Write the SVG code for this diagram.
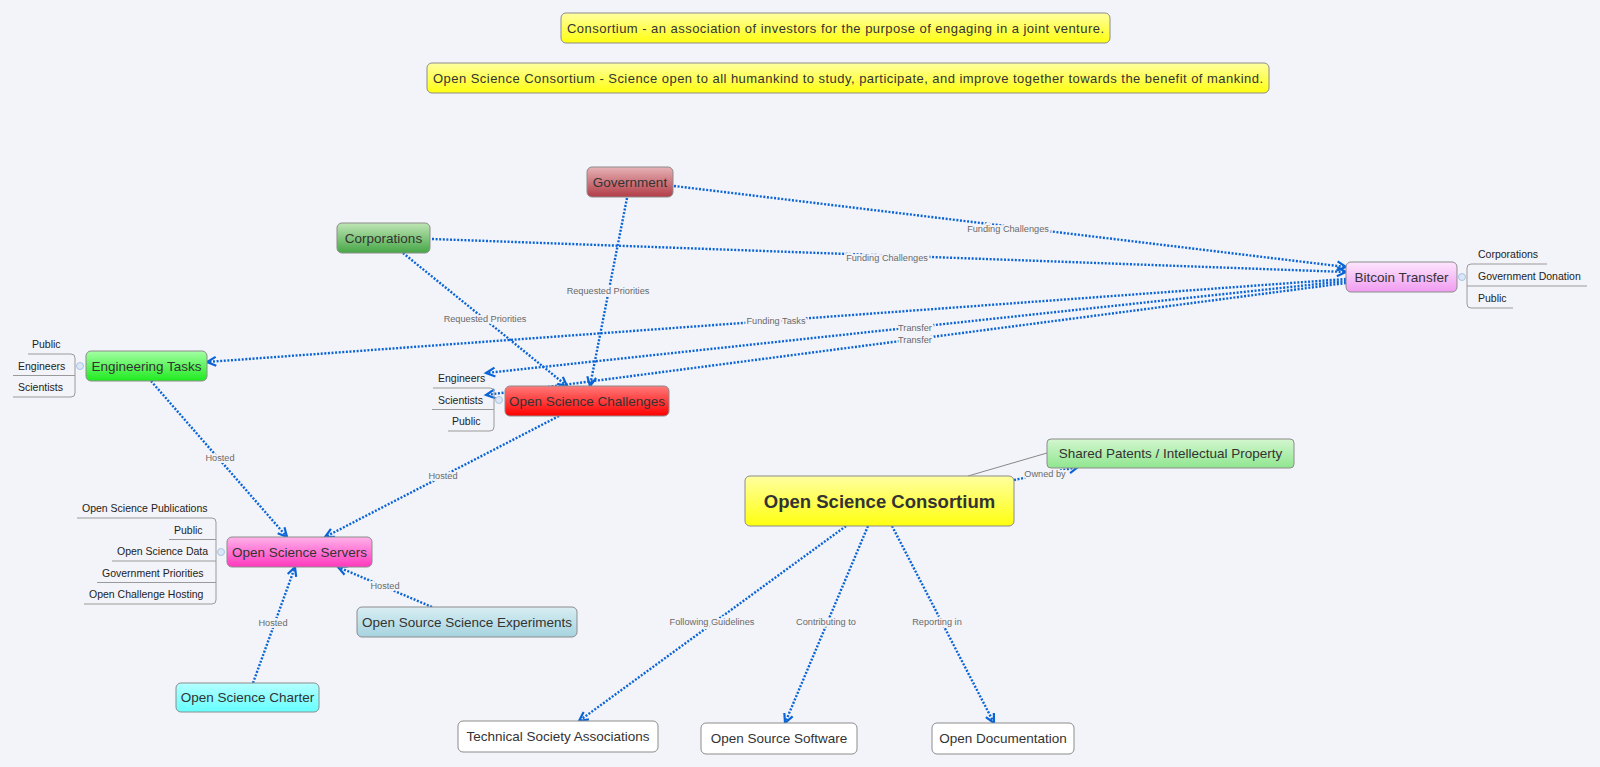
<svg xmlns="http://www.w3.org/2000/svg" width="1600" height="767" viewBox="0 0 1600 767">
<defs>
<style>
.n{stroke:#8c8c8c;stroke-width:1}
.t{font-family:"Liberation Sans",Arial,sans-serif;font-size:13.5px;fill:#333;text-anchor:middle}
.d{font-family:"Liberation Sans",Arial,sans-serif;font-size:13px;fill:#333;text-anchor:start}
.c{font-family:"Liberation Sans",Arial,sans-serif;font-size:10.5px;fill:#222}
.e{fill:none;stroke:#0a64d6;stroke-width:2.4;stroke-dasharray:2 1.6}
.l{font-family:"Liberation Sans",Arial,sans-serif;font-size:9.2px;fill:#6a6a6a;text-anchor:middle;stroke:#f3f4f9;stroke-width:4;paint-order:stroke;stroke-linejoin:round}
.b{fill:none;stroke:#9a9a9a;stroke-width:1}
.k{fill:#dce7f6;stroke:#a9c3e6;stroke-width:1}
</style>
<marker id="a" markerUnits="userSpaceOnUse" markerWidth="14" markerHeight="14" refX="10" refY="6" orient="auto" viewBox="0 0 14 12">
<path d="M1,1.5 L10,6 L1,10.5" fill="none" stroke="#0a64d6" stroke-width="2.2" stroke-dasharray="none"/>
</marker>
<linearGradient id="gy" x1="0" y1="0" x2="0" y2="1"><stop offset="0" stop-color="#ffffa0"/><stop offset="1" stop-color="#ffff10"/></linearGradient>
<linearGradient id="gg" x1="0" y1="0" x2="0" y2="1"><stop offset="0" stop-color="#e6b2b6"/><stop offset="1" stop-color="#b23c46"/></linearGradient>
<linearGradient id="gc" x1="0" y1="0" x2="0" y2="1"><stop offset="0" stop-color="#bfe6b6"/><stop offset="1" stop-color="#46a646"/></linearGradient>
<linearGradient id="gb" x1="0" y1="0" x2="0" y2="1"><stop offset="0" stop-color="#fde6fd"/><stop offset="1" stop-color="#f09cf0"/></linearGradient>
<linearGradient id="ge" x1="0" y1="0" x2="0" y2="1"><stop offset="0" stop-color="#a4ffa4"/><stop offset="1" stop-color="#1eea1e"/></linearGradient>
<linearGradient id="gr" x1="0" y1="0" x2="0" y2="1"><stop offset="0" stop-color="#ff7a7a"/><stop offset="1" stop-color="#ff0000"/></linearGradient>
<linearGradient id="gp" x1="0" y1="0" x2="0" y2="1"><stop offset="0" stop-color="#ffb2ea"/><stop offset="1" stop-color="#ff38be"/></linearGradient>
<linearGradient id="gl" x1="0" y1="0" x2="0" y2="1"><stop offset="0" stop-color="#d8eef3"/><stop offset="1" stop-color="#a6d3df"/></linearGradient>
<linearGradient id="gq" x1="0" y1="0" x2="0" y2="1"><stop offset="0" stop-color="#b4ffff"/><stop offset="1" stop-color="#66ffff"/></linearGradient>
<linearGradient id="gs" x1="0" y1="0" x2="0" y2="1"><stop offset="0" stop-color="#d4f6d0"/><stop offset="1" stop-color="#8fe68f"/></linearGradient>
</defs>
<rect width="1600" height="767" fill="#f3f4f9"/>

<g id="connectors">
<line x1="968" y1="476" x2="1047" y2="453" stroke="#888" stroke-width="1"/>
<line class="e" x1="674" y1="186" x2="1346" y2="267" marker-end="url(#a)"/>
<line class="e" x1="432" y1="239" x2="1346" y2="272" marker-end="url(#a)"/>
<line class="e" x1="1346" y1="279" x2="207" y2="362" marker-end="url(#a)"/>
<line class="e" x1="1346" y1="281" x2="486" y2="373" marker-end="url(#a)"/>
<line class="e" x1="1346" y1="283" x2="486" y2="395" marker-end="url(#a)"/>
<line class="e" x1="627" y1="198" x2="590" y2="386" marker-end="url(#a)"/>
<line class="e" x1="403" y1="253" x2="567" y2="386" marker-end="url(#a)"/>
<line class="e" x1="151" y1="381" x2="287" y2="537" marker-end="url(#a)"/>
<line class="e" x1="559" y1="416" x2="325" y2="537" marker-end="url(#a)"/>
<line class="e" x1="432" y1="607" x2="338" y2="567" marker-end="url(#a)"/>
<line class="e" x1="253" y1="683" x2="295" y2="567" marker-end="url(#a)"/>
<line class="e" x1="1014" y1="480" x2="1078" y2="467" marker-end="url(#a)"/>
<line class="e" x1="846" y1="526" x2="579" y2="721" marker-end="url(#a)"/>
<line class="e" x1="868" y1="526" x2="785" y2="723" marker-end="url(#a)"/>
<line class="e" x1="892" y1="526" x2="994" y2="723" marker-end="url(#a)"/>
<text class="l" x="1008" y="232">Funding Challenges</text>
<text class="l" x="887" y="261">Funding Challenges</text>
<text class="l" x="776" y="324">Funding Tasks</text>
<text class="l" x="915" y="331">Transfer</text>
<text class="l" x="915" y="343">Transfer</text>
<text class="l" x="608" y="294">Requested Priorities</text>
<text class="l" x="485" y="322">Requested Priorities</text>
<text class="l" x="220" y="461">Hosted</text>
<text class="l" x="443" y="479">Hosted</text>
<text class="l" x="385" y="589">Hosted</text>
<text class="l" x="273" y="626">Hosted</text>
<text class="l" x="1045" y="477">Owned by</text>
<text class="l" x="712" y="625">Following Guidelines</text>
<text class="l" x="826" y="625">Contributing to</text>
<text class="l" x="937" y="625">Reporting in</text>
</g>

<g id="def1"><rect class="n" x="561" y="13" width="549" height="30" rx="5" fill="url(#gy)"/><text class="d" x="567" y="32.5" textLength="537">Consortium - an association of investors for the purpose of engaging in a joint venture.</text></g>
<g id="def2"><rect class="n" x="427" y="63" width="842" height="30" rx="5" fill="url(#gy)"/><text class="d" x="433" y="82.5" textLength="830">Open Science Consortium - Science open to all humankind to study, participate, and improve together towards the benefit of mankind.</text></g>

<g id="government"><rect class="n" x="587" y="167" width="86" height="30" rx="5" fill="url(#gg)"/><text class="t" x="630" y="186.5">Government</text></g>
<g id="corporations"><rect class="n" x="337" y="223" width="93" height="30" rx="5" fill="url(#gc)"/><text class="t" x="383.5" y="242.5">Corporations</text></g>

<g id="bitcoin"><rect class="n" x="1346" y="262" width="111" height="30" rx="5" fill="url(#gb)"/><text class="t" x="1401.5" y="281.5">Bitcoin Transfer</text>
<path class="b" d="M1547,264 H1471 Q1467,264 1467,268 V304 Q1467,308 1471,308 H1513 M1467,286 H1587"/>
<circle class="k" cx="1462" cy="277" r="3.5"/>
<text class="c" x="1478" y="258">Corporations</text>
<text class="c" x="1478" y="280">Government Donation</text>
<text class="c" x="1478" y="302">Public</text></g>

<g id="engineering"><rect class="n" x="86" y="351" width="121" height="30" rx="5" fill="url(#ge)"/><text class="t" x="146.5" y="370.5">Engineering Tasks</text>
<path class="b" d="M28,354 H71 Q75,354 75,358 V393 Q75,397 71,397 H13 M13,375.5 H75"/>
<circle class="k" cx="80" cy="366" r="3.5"/>
<text class="c" x="32" y="348">Public</text>
<text class="c" x="18" y="369.5">Engineers</text>
<text class="c" x="18" y="391">Scientists</text></g>

<g id="challenges"><rect class="n" x="505" y="386" width="164" height="30" rx="5" fill="url(#gr)"/><text class="t" x="587" y="405.5">Open Science Challenges</text>
<path class="b" d="M433,388 H490 Q494,388 494,392 V427 Q494,431 490,431 H448 M432,409.5 H494"/>
<circle class="k" cx="499" cy="400" r="3.5"/>
<text class="c" x="438" y="382">Engineers</text>
<text class="c" x="438" y="403.5">Scientists</text>
<text class="c" x="452" y="425">Public</text></g>

<g id="servers"><rect class="n" x="227" y="537" width="145" height="30" rx="5" fill="url(#gp)"/><text class="t" x="299.5" y="556.5">Open Science Servers</text>
<path class="b" d="M77,518 H212 Q216,518 216,522 V600 Q216,604 212,604 H84 M169,539.5 H216 M112,561 H216 M97,582.5 H216"/>
<circle class="k" cx="221" cy="552" r="3.5"/>
<text class="c" x="82" y="512">Open Science Publications</text>
<text class="c" x="174" y="533.5">Public</text>
<text class="c" x="117" y="555">Open Science Data</text>
<text class="c" x="102" y="576.5">Government Priorities</text>
<text class="c" x="89" y="598">Open Challenge Hosting</text></g>

<g id="experiments"><rect class="n" x="357" y="607" width="220" height="30" rx="5" fill="url(#gl)"/><text class="t" x="467" y="626.5">Open Source Science Experiments</text></g>
<g id="charter"><rect class="n" x="176" y="683" width="143" height="29" rx="5" fill="url(#gq)"/><text class="t" x="247.5" y="702">Open Science Charter</text></g>

<g id="central"><rect class="n" x="745" y="476" width="269" height="50" rx="5" fill="url(#gy)"/><text class="t" x="879.5" y="508" style="font-size:18.5px;font-weight:bold">Open Science Consortium</text></g>
<g id="patents"><rect class="n" x="1047" y="439" width="247" height="29" rx="4" fill="url(#gs)"/><text class="t" x="1170.5" y="458">Shared Patents / Intellectual Property</text></g>

<g id="techsoc"><rect class="n" x="458" y="721" width="200" height="31" rx="5" fill="#fff"/><text class="t" x="558" y="741">Technical Society Associations</text></g>
<g id="oss"><rect class="n" x="701" y="723" width="156" height="31" rx="5" fill="#fff"/><text class="t" x="779" y="743">Open Source Software</text></g>
<g id="opendoc"><rect class="n" x="932" y="723" width="142" height="31" rx="5" fill="#fff"/><text class="t" x="1003" y="743">Open Documentation</text></g>
</svg>
